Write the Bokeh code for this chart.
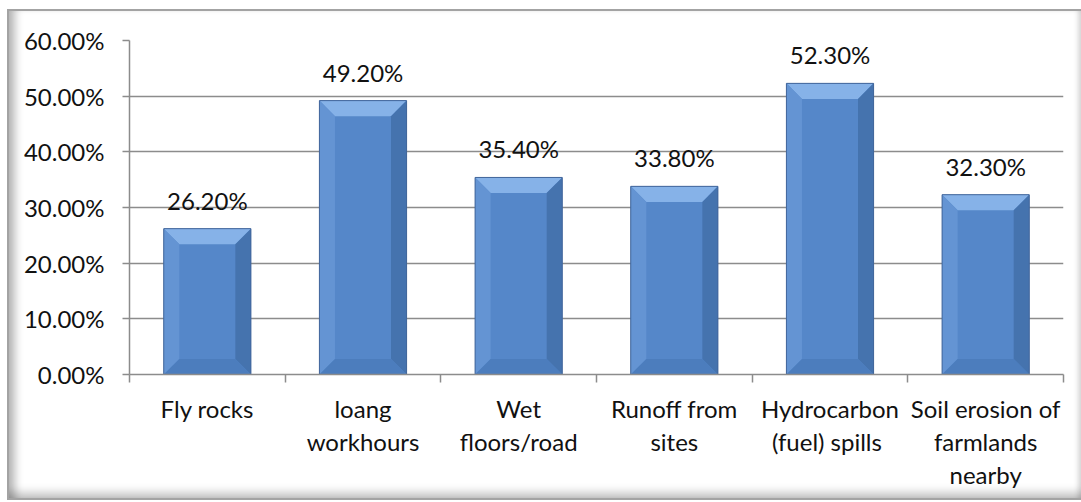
from bokeh.plotting import figure
from bokeh.models import Range1d, FixedTicker, ColumnDataSource, InlineStyleSheet
from bokeh.embed import file_html
from bokeh.resources import INLINE
from bokeh.core.properties import value

# ---- data ----
categories = ["Fly rocks", "loang workhours", "Wet floors/road", "Runoff from sites",
              "Hydrocarbon (fuel) spills", "Soil erosion of farmlands nearby"]
category_labels = ["Fly rocks", "loang\nworkhours", "Wet\nfloors/road", "Runoff from\nsites",
                   "Hydrocarbon\n(fuel)  spills", "Soil erosion of\nfarmlands\nnearby"]
values = [26.2, 49.2, 35.4, 33.8, 52.3, 32.3]
value_labels = ["26.20%", "49.20%", "35.40%", "33.80%", "52.30%", "32.30%"]
y_ticks = [0, 10, 20, 30, 40, 50, 60]
y_tick_labels = ["0.00%", "10.00%", "20.00%", "30.00%", "40.00%", "50.00%", "60.00%"]

FONT = "Lato"
FS = "24px"
idx = list(range(len(categories)))

W, H = 1081, 502
p = figure(width=W, height=H, output_backend="svg", toolbar_location=None,
           x_range=Range1d(-0.5, len(categories) - 0.5), y_range=Range1d(0, 60),
           min_border_left=129, min_border_top=40, min_border_right=18, min_border_bottom=128)
p.outline_line_color = None
p.background_fill_color = "white"
p.border_fill_color = "white"

# chart-area border with soft inner shading (pure CSS overlay, drawn over the canvas)
p.stylesheets = [InlineStyleSheet(css="""
:host { position: relative; }
:host::after {
  content: "";
  position: absolute;
  left: 7px; top: 9px; width: 1074px; height: 491px;
  box-sizing: border-box;
  border: 2px solid #a3a3a3;
  border-right-width: 0;
  box-shadow: inset 11px 0 9px -5px rgba(0,0,0,0.28),
              inset 0 -11px 9px -5px rgba(0,0,0,0.22),
              inset -6px 0 5px -3px rgba(0,0,0,0.15);
  pointer-events: none;
  z-index: 100;
}
""")]

# axes
p.yaxis.ticker = FixedTicker(ticks=y_ticks)
p.yaxis.major_label_overrides = {t: l for t, l in zip(y_ticks, y_tick_labels)}
p.yaxis.major_tick_out = 7
p.yaxis.major_tick_in = 0
p.yaxis.minor_tick_line_color = None
p.yaxis.axis_line_color = "#8c8c8c"
p.yaxis.axis_line_width = 1.5
p.yaxis.major_tick_line_color = "#8c8c8c"
p.yaxis.major_tick_line_width = 1.5
p.yaxis.major_label_standoff = 18
p.yaxis.major_label_text_font = FONT
p.yaxis.major_label_text_font_size = FS
p.yaxis.major_label_text_color = "#111111"

p.xaxis.ticker = FixedTicker(ticks=idx, minor_ticks=[i - 0.5 for i in range(len(categories) + 1)])
p.xaxis.major_label_overrides = {i: l for i, l in zip(idx, category_labels)}
p.xaxis.major_tick_line_color = None
p.xaxis.major_tick_out = 0
p.xaxis.major_tick_in = 0
p.xaxis.minor_tick_out = 8
p.xaxis.minor_tick_in = 0
p.xaxis.minor_tick_line_color = "#8c8c8c"
p.xaxis.minor_tick_line_width = 1.5
p.xaxis.axis_line_color = "#8c8c8c"
p.xaxis.axis_line_width = 1.5
p.xaxis.major_label_standoff = 11
p.xaxis.major_label_text_font = FONT
p.xaxis.major_label_text_font_size = FS
p.xaxis.major_label_text_color = "#111111"
p.xaxis.major_label_text_line_height = 1.15

p.xgrid.grid_line_color = None
p.ygrid.ticker = FixedTicker(ticks=y_ticks)
p.ygrid.grid_line_color = "#8c8c8c"
p.ygrid.grid_line_width = 1.5

# bars with bevel facets
hw = 0.28
bx, by = 0.1, 2.8
p.vbar(x=idx, top=values, width=2 * hw, fill_color="#5587c9", line_color=None)

top_xs, top_ys, left_xs, left_ys, right_xs, right_ys, bot_xs, bot_ys = ([] for _ in range(8))
for c, t in zip(idx, values):
    L, R, B, T = c - hw, c + hw, 0, t
    l, r, b, tt = L + bx, R - bx, by, t - by
    top_xs.append([L, R, r, l]); top_ys.append([T, T, tt, tt])
    left_xs.append([L, l, l, L]); left_ys.append([T, tt, b, B])
    right_xs.append([R, R, r, r]); right_ys.append([T, B, b, tt])
    bot_xs.append([L, R, r, l]); bot_ys.append([B, B, b, b])

p.patches(top_xs, top_ys, fill_color="#86b2e8", line_color=None)
p.patches(left_xs, left_ys, fill_color="#6494d3", line_color=None)
p.patches(right_xs, right_ys, fill_color="#4573ae", line_color=None)
p.patches(bot_xs, bot_ys, fill_color="#4c7dbd", line_color=None)
p.vbar(x=idx, top=values, width=2 * hw, fill_color=None, line_color="#41659a", line_width=1)

src = ColumnDataSource(dict(x=idx, y=values, t=value_labels))
p.text(x="x", y="y", text="t", source=src, text_align="center", text_baseline="bottom",
       y_offset=-14, text_font=value(FONT), text_font_size=FS, text_color="#111111")

open("out.html", "w").write(file_html(p, INLINE))
